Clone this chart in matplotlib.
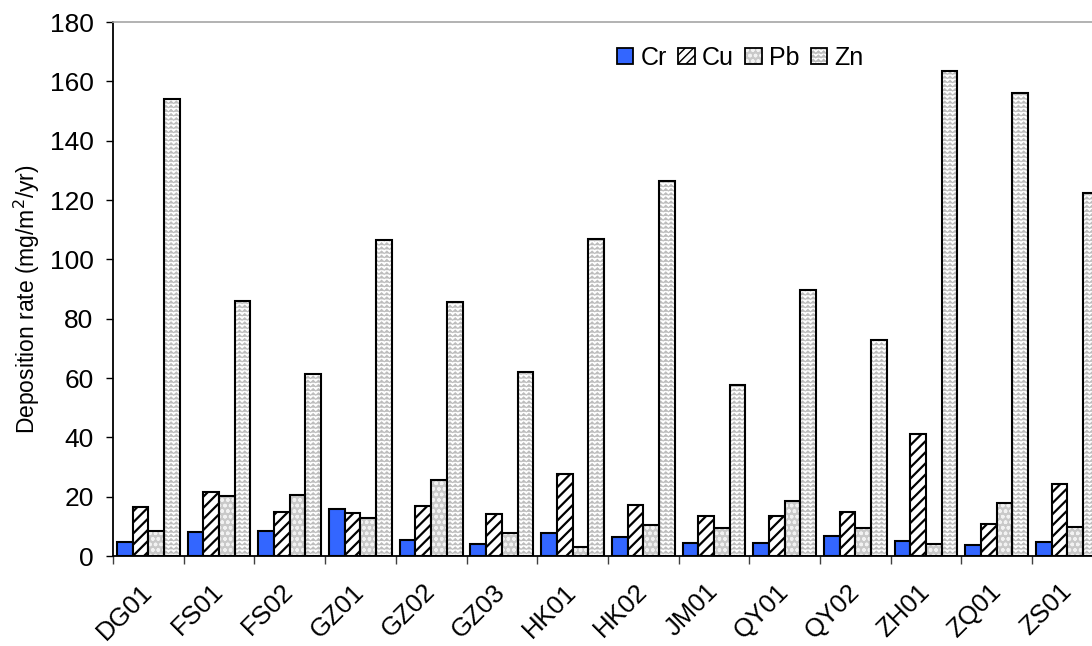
import warnings
import numpy as np
import matplotlib
matplotlib.use("Agg")
import matplotlib.pyplot as plt
from matplotlib import hatch as mhatch
from matplotlib.path import Path
from matplotlib.patches import Patch
from matplotlib.legend_handler import HandlerTuple
import matplotlib.transforms as mtransforms

warnings.filterwarnings("ignore")

sites = ["DG01", "FS01", "FS02", "GZ01", "GZ02", "GZ03", "HK01", "HK02",
         "JM01", "QY01", "QY02", "ZH01", "ZQ01", "ZS01"]
cr = [4.7, 8.0, 8.4, 16.0, 5.4, 4.0, 7.6, 6.4, 4.5, 4.5, 6.7, 5.2, 3.7, 4.7]
cu = [16.5, 21.6, 14.7, 14.5, 16.7, 14.3, 27.5, 17.3, 13.5, 13.5, 14.8, 41.0, 10.8, 24.2]
pb = [8.5, 20.3, 20.6, 12.8, 25.5, 7.6, 2.9, 10.5, 9.4, 18.5, 9.5, 4.0, 17.7, 9.8]
zn = [154.0, 86.0, 61.5, 106.5, 85.5, 62.0, 107.0, 126.5, 57.5, 89.5, 72.8, 163.5, 156.0, 122.5]
series_names = ["Cr", "Cu", "Pb", "Zn"]
yticks = list(range(0, 181, 20))


class ZigZagHatch(mhatch.HatchPatternBase):
    def __init__(self, hatch, density):
        self.num_rows = hatch.count('z') * density
        self.num_teeth = int(round(self.num_rows * 0.8))
        self.num_lines = 0
        if self.num_rows:
            self.num_vertices = self.num_rows * (2 * self.num_teeth + 1)
        else:
            self.num_vertices = 0

    def set_vertices_and_codes(self, vertices, codes):
        n = self.num_teeth
        npts = 2 * n + 1
        xs = np.linspace(0, 1, npts)
        amp = 0.6 / self.num_rows
        off = np.where(np.arange(npts) % 2 == 0, 0.0, amp)
        k = 0
        for r in range(self.num_rows):
            y0 = r / self.num_rows + 0.15 / self.num_rows
            vertices[k:k + npts, 0] = xs
            vertices[k:k + npts, 1] = y0 + off
            codes[k] = Path.MOVETO
            codes[k + 1:k + npts] = Path.LINETO
            k += npts


mhatch._hatch_types.append(ZigZagHatch)

plt.rcParams['font.family'] = ['Liberation Sans', 'DejaVu Sans']

W, H = 1092, 646
fig = plt.figure(figsize=(W / 100, H / 100), dpi=100)
left_px, right_px, top_px, bot_px = 113, 113 + 14 * 70.7, 22, 556
ax = fig.add_axes([left_px / W, (H - bot_px) / H,
                   (right_px - left_px) / W, (bot_px - top_px) / H])

x = np.arange(len(sites))
bw = 0.222
edge_lw = 1.5

ZN_HATCH_COLOR = '#bcbcbc'
PB_FACE = '#c9c9c9'
PB_DOT = '#f2f2f2'


def set_hlw(p, lw):
    if hasattr(p, 'set_hatch_linewidth'):
        p.set_hatch_linewidth(lw)


# Cr: solid blue
ax.bar(x + 0.5 - 1.5 * bw, cr, bw, color='#3366ff', edgecolor='black',
       linewidth=edge_lw, zorder=3)

# Cu: black diagonal hatch
with plt.rc_context({'hatch.linewidth': 1.6}):
    bc = ax.bar(x + 0.5 - 0.5 * bw, cu, bw, color='white', edgecolor='black',
                linewidth=edge_lw, hatch='///', zorder=3)
for p in bc:
    set_hlw(p, 1.6)

# Pb: gray with white dots
with plt.rc_context({'hatch.linewidth': 1.0}):
    bp = ax.bar(x + 0.5 + 0.5 * bw, pb, bw, color=PB_FACE, edgecolor=PB_DOT,
                linewidth=0, hatch='ooo', zorder=3)
for p in bp:
    set_hlw(p, 1.0)
ax.bar(x + 0.5 + 0.5 * bw, pb, bw, color='none', edgecolor='black',
       linewidth=edge_lw, zorder=4)

# Zn: white with gray zigzags
with plt.rc_context({'hatch.linewidth': 0.7}):
    bz = ax.bar(x + 0.5 + 1.5 * bw, zn, bw, color='white', edgecolor=ZN_HATCH_COLOR,
                linewidth=0, hatch='zzzz', zorder=3)
for p in bz:
    set_hlw(p, 0.7)
ax.bar(x + 0.5 + 1.5 * bw, zn, bw, color='none', edgecolor='black',
       linewidth=edge_lw, zorder=4)

ax.set_xlim(0, 14)
ax.set_ylim(0, 180)
ax.set_yticks(yticks)
ax.set_yticklabels([str(v) for v in yticks], fontsize=19)

ax.set_xticks(np.arange(0, 15))
ax.set_xticklabels([])
ax.set_xticks(x + 0.5, minor=True)
ax.set_xticklabels(sites, minor=True, rotation=45, ha='right', va='center',
                   rotation_mode='anchor', fontsize=18.5)
shift = mtransforms.ScaledTranslation(-19 / 100, 0, fig.dpi_scale_trans)
for lab in ax.get_xticklabels(minor=True):
    lab.set_transform(lab.get_transform() + shift)
ax.tick_params(axis='x', which='major', direction='out', length=5.5, width=1,
               color='#404040')
ax.tick_params(axis='x', which='minor', length=0, pad=23)
ax.tick_params(axis='y', direction='out', length=5, width=1, pad=9)

for s in ['left', 'bottom']:
    ax.spines[s].set_linewidth(1.3)
    ax.spines[s].set_color('black')
ax.spines['right'].set_visible(False)
ax.spines['top'].set_color('#a6a6a6')
ax.spines['top'].set_linewidth(1.2)

ax.set_ylabel('Deposition rate (mg/m$^2$/yr)', fontsize=16.5)
ax.yaxis.set_label_coords(-0.072, 0.48)

# legend
h_cr = Patch(facecolor='#3366ff', edgecolor='black', linewidth=1.3)
with plt.rc_context({'hatch.linewidth': 1.2}):
    h_cu = Patch(facecolor='white', edgecolor='black', linewidth=1.3, hatch='////')
    h_pb1 = Patch(facecolor=PB_FACE, edgecolor=PB_DOT, linewidth=0, hatch='ooo')
    h_zn1 = Patch(facecolor='white', edgecolor=ZN_HATCH_COLOR, linewidth=0, hatch='zzzz')
h_out = Patch(facecolor='none', edgecolor='black', linewidth=1.3)
leg = ax.legend([h_cr, h_cu, (h_pb1, h_out), (h_zn1, h_out)], series_names,
                handler_map={tuple: HandlerTuple(ndivide=1, pad=0)},
                loc='center', bbox_to_anchor=(0.634, 0.933), ncol=4,
                frameon=False, fontsize=18, handlelength=0.65, handleheight=0.65,
                handletextpad=0.3, columnspacing=0.45, borderpad=0.2)

fig.savefig('out.png', dpi=100)
